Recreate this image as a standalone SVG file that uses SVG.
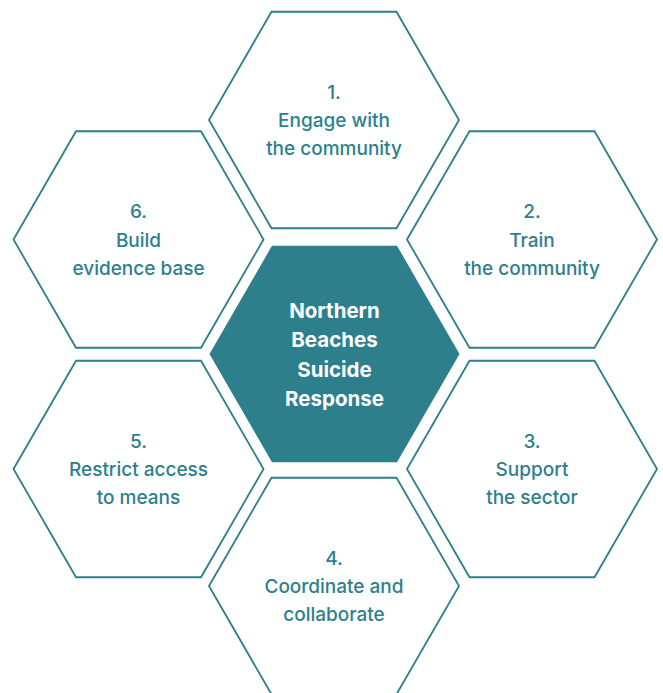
<svg xmlns="http://www.w3.org/2000/svg" width="663" height="693" viewBox="0 0 663 693">
  <defs>
    <!-- regular hexagon, circumradius 125, centred on the origin -->
    <polygon id="hex" points="-125,0 -62.5,-108.25 62.5,-108.25 125,0 62.5,108.25 -62.5,108.25"/>
  </defs>
  <style>
    .outline { fill: #ffffff; stroke: #2d7f8c; stroke-width: 1.8; }
    .core { fill: #2d7f8c; stroke: none; }
    .label { font-family: Inter, "Noto Sans", "Liberation Sans", sans-serif; font-size: 19px; font-weight: 500; fill: #2d7f8c; text-anchor: middle; }
    .core-label { font-family: Inter, "Noto Sans", "Liberation Sans", sans-serif; font-size: 20.5px; font-weight: 700; fill: #ffffff; text-anchor: middle; }
  </style>
  <rect width="663" height="693" fill="#ffffff"/>

  <g id="connectors"/>

  <g id="node-center" transform="translate(334.5,354)">
    <use href="#hex" class="core"/>
    <text class="core-label" y="-36">Northern</text>
    <text class="core-label" y="-7">Beaches</text>
    <text class="core-label" y="22.5">Suicide</text>
    <text class="core-label" y="51.5">Response</text>
  </g>

  <g id="node-1" transform="translate(334,120)">
    <use href="#hex" class="outline"/>
    <text class="label" y="-21.5">1.</text>
    <text class="label" y="7">Engage with</text>
    <text class="label" y="35">the community</text>
  </g>

  <g id="node-2" transform="translate(532,239.5)">
    <use href="#hex" class="outline"/>
    <text class="label" y="-21.5">2.</text>
    <text class="label" y="7">Train</text>
    <text class="label" y="35">the community</text>
  </g>

  <g id="node-3" transform="translate(532,469)">
    <use href="#hex" class="outline"/>
    <text class="label" y="-21.5">3.</text>
    <text class="label" y="7">Support</text>
    <text class="label" y="35">the sector</text>
  </g>

  <g id="node-4" transform="translate(334,586)">
    <use href="#hex" class="outline"/>
    <text class="label" y="-21.5">4.</text>
    <text class="label" y="7">Coordinate and</text>
    <text class="label" y="35">collaborate</text>
  </g>

  <g id="node-5" transform="translate(138.5,469)">
    <use href="#hex" class="outline"/>
    <text class="label" y="-21.5">5.</text>
    <text class="label" y="7">Restrict access</text>
    <text class="label" y="35">to means</text>
  </g>

  <g id="node-6" transform="translate(138.5,239.5)">
    <use href="#hex" class="outline"/>
    <text class="label" y="-21.5">6.</text>
    <text class="label" y="7">Build</text>
    <text class="label" y="35">evidence base</text>
  </g>
</svg>
